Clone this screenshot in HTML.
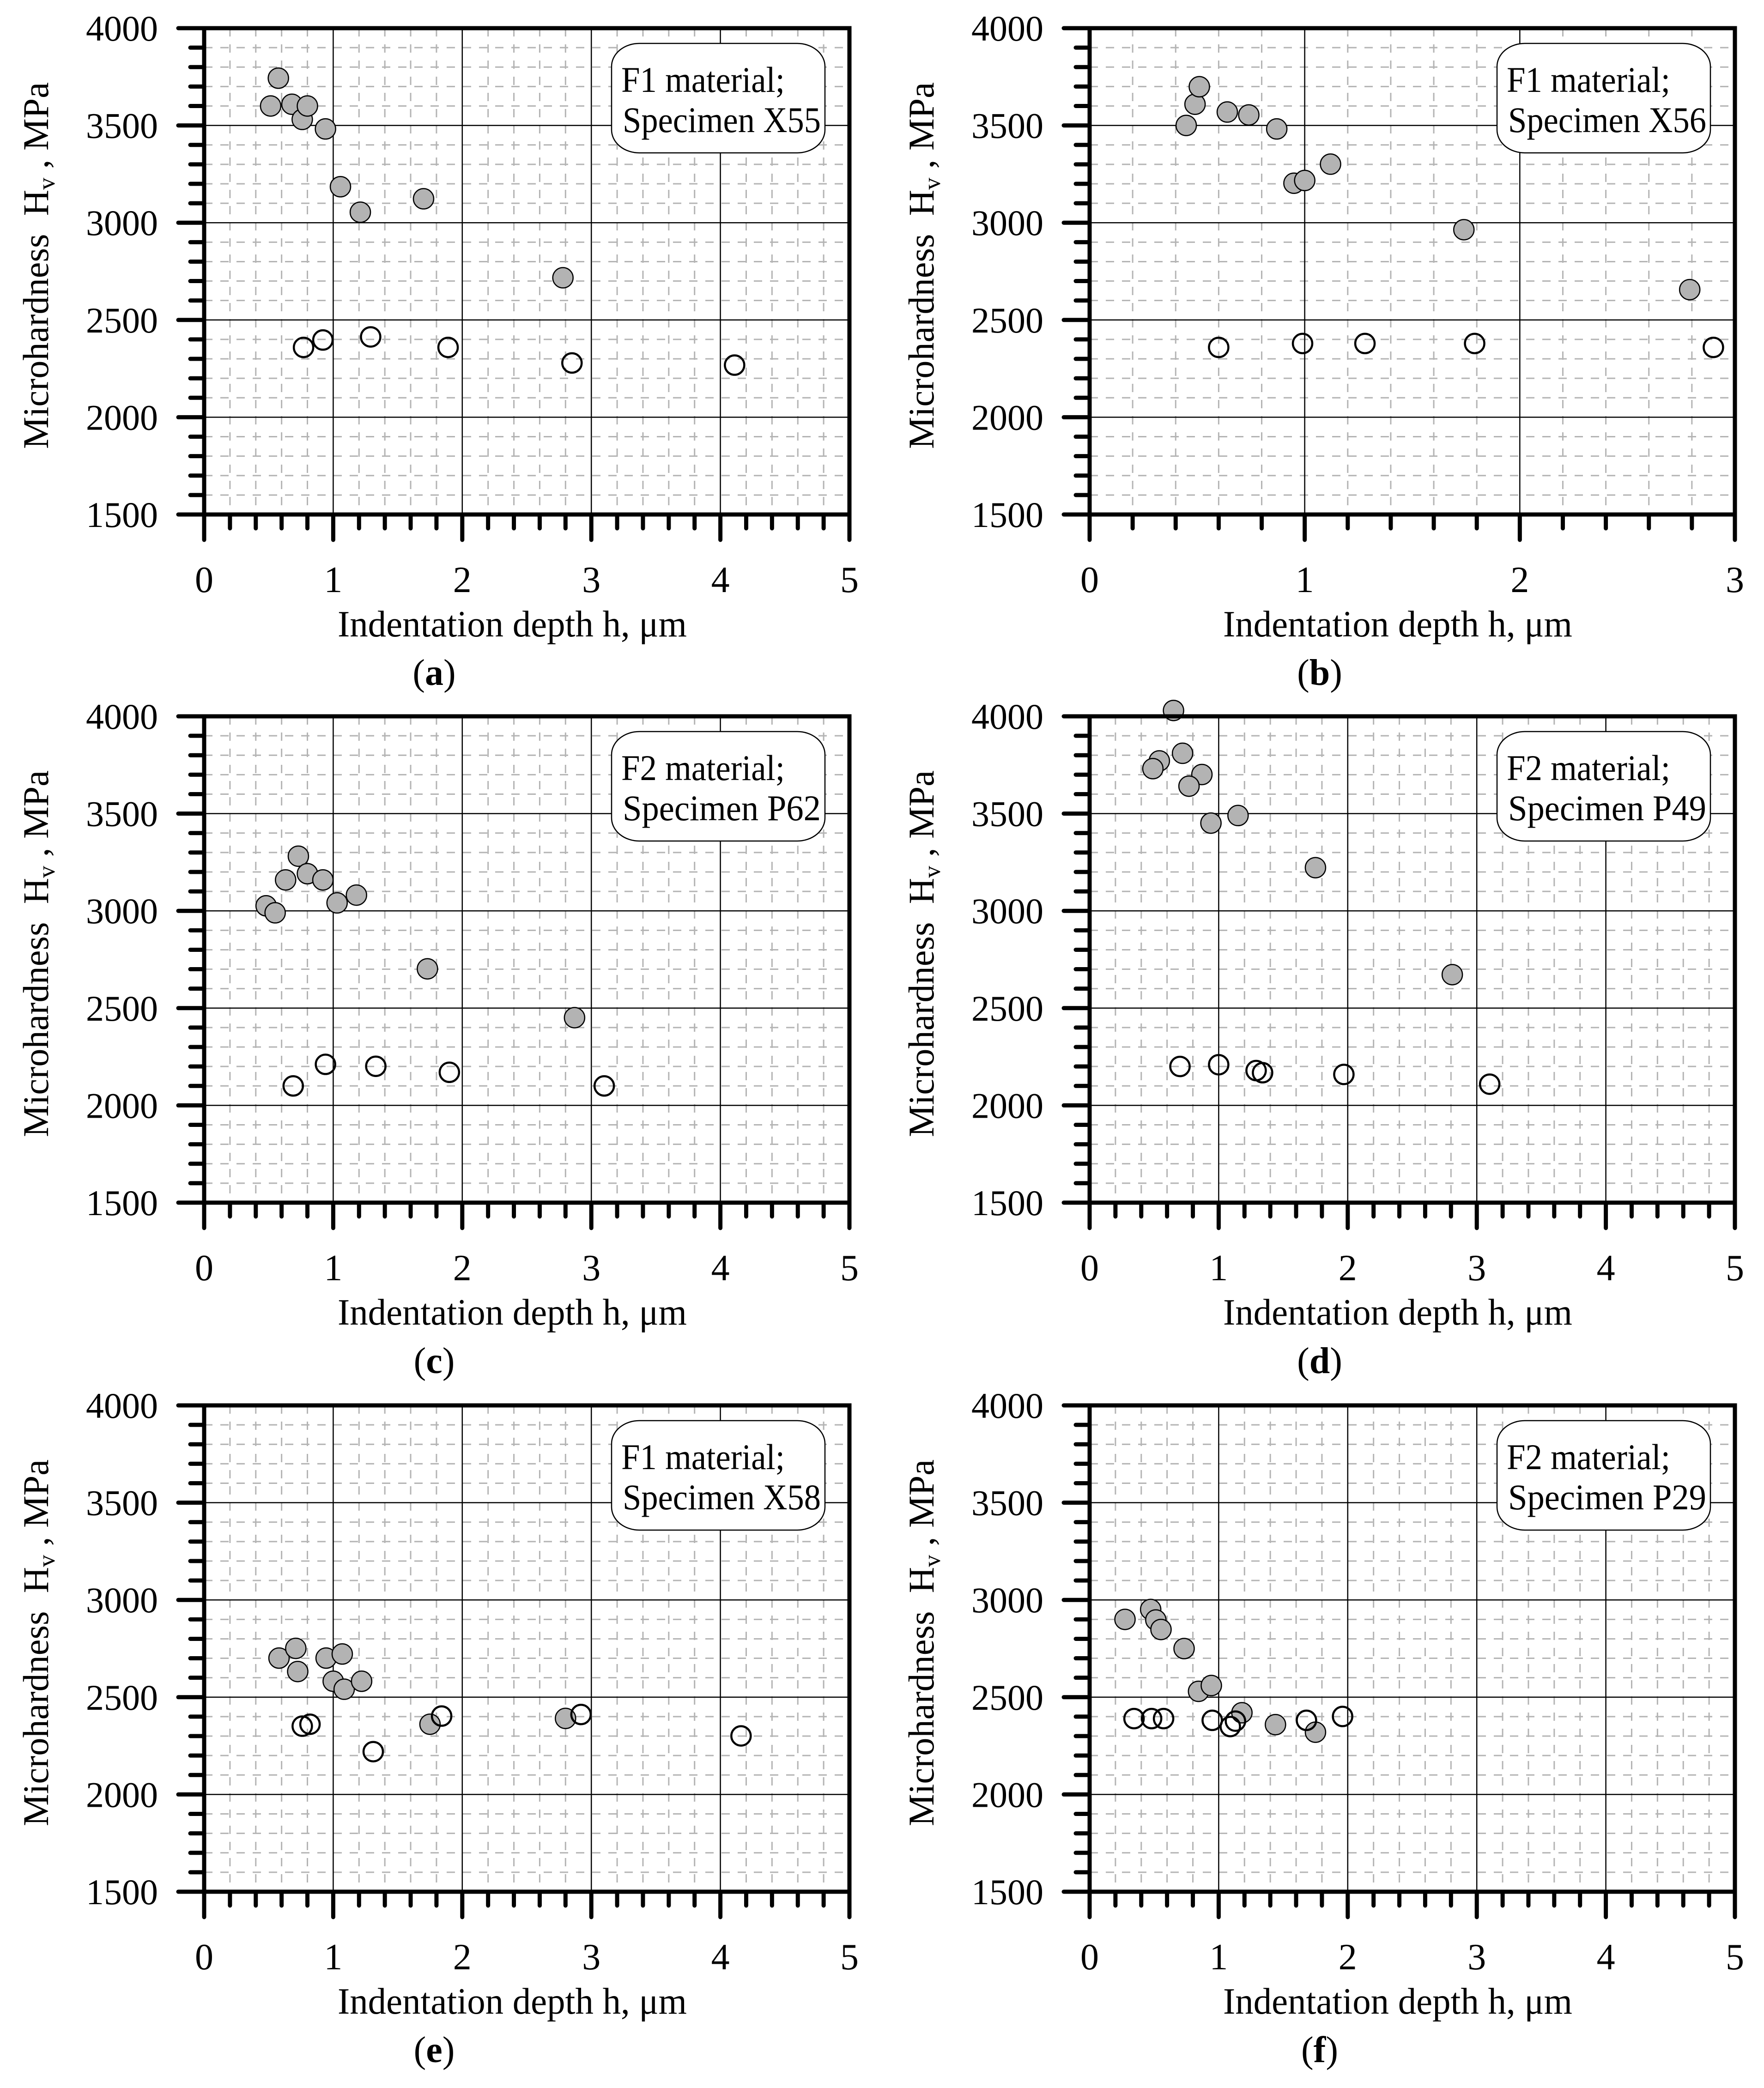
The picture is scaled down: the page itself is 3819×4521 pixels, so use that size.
<!DOCTYPE html>
<html>
<head>
<meta charset="utf-8">
<style>
html,body{margin:0;padding:0;background:#fff;}
svg{display:block;}
text{font-family:"Liberation Serif","Times New Roman",serif;fill:#000;}
</style>
</head>
<body>
<svg id="fig" xmlns="http://www.w3.org/2000/svg" width="3819" height="4521" viewBox="0 0 3819 4521">
<rect x="0" y="0" width="3819" height="4521" fill="#fff"/>
</svg>
<script>
// ---- data (h in µm, Hv in MPa) ----
const yTicks = [1500, 2000, 2500, 3000, 3500, 4000];
const xTicks5 = [0, 1, 2, 3, 4, 5];
const xTicks3 = [0, 1, 2, 3];

const aFilledX = [0.515, 0.575, 0.68, 0.76, 0.80, 0.94, 1.056, 1.21, 1.70, 2.78];
const aFilledY = [3600, 3743, 3609, 3531, 3600, 3482, 3185, 3054, 3123, 2717];
const aOpenX = [0.77, 0.92, 1.29, 1.89, 2.85, 4.11];
const aOpenY = [2359, 2397, 2413, 2359, 2279, 2268];

const bFilledX = [0.449, 0.49, 0.51, 0.64, 0.74, 0.87, 0.95, 1.0, 1.12, 1.74, 2.79];
const bFilledY = [3500, 3609, 3699, 3569, 3554, 3482, 3203, 3217, 3301, 2964, 2656];
const bOpenX = [0.60, 0.99, 1.28, 1.79, 2.90];
const bOpenY = [2359, 2379, 2379, 2379, 2359];

const cFilledX = [0.73, 0.80, 0.631, 0.92, 1.18, 1.03, 0.48, 0.55, 1.73, 2.87];
const cFilledY = [3281, 3191, 3159, 3159, 3081, 3041, 3026, 2990, 2702, 2451];
const cOpenX = [0.69, 0.94, 1.33, 1.9, 3.1];
const cOpenY = [2100, 2211, 2201, 2170, 2100];

const dFilledX = [0.65, 0.72, 0.54, 0.49, 0.87, 0.77, 1.15, 0.94, 1.75, 2.81];
const dFilledY = [4030, 3810, 3771, 3731, 3701, 3641, 3490, 3451, 3222, 2672];
const dOpenX = [0.70, 1.0, 1.29, 1.34, 1.97, 3.1];
const dOpenY = [2200, 2209, 2179, 2168, 2159, 2109];

const eFilledX = [0.58, 0.71, 0.725, 0.945, 1.07, 1.0, 1.085, 1.22, 1.75, 2.8];
const eFilledY = [2701, 2751, 2632, 2701, 2722, 2582, 2541, 2582, 2361, 2391];
const eOpenX = [0.76, 0.82, 1.31, 1.84, 2.92, 4.16];
const eOpenY = [2351, 2361, 2220, 2403, 2411, 2301];

const fFilledX = [0.274, 0.473, 0.513, 0.553, 0.732, 0.844, 0.943, 1.18, 1.44, 1.75];
const fFilledY = [2900, 2951, 2897, 2848, 2750, 2530, 2560, 2420, 2359, 2320];
const fOpenX = [0.344, 0.48, 0.573, 0.95, 1.09, 1.13, 1.68, 1.96];
const fOpenY = [2390, 2390, 2390, 2381, 2349, 2377, 2381, 2401];

const legendLine1 = ["F1 material;", "F1 material;", "F2 material;", "F2 material;", "F1 material;", "F2 material;"];
const legendLine2 = ["Specimen X55", "Specimen X56", "Specimen P62", "Specimen P49", "Specimen X58", "Specimen P29"];
const captions = ["a", "b", "c", "d", "e", "f"];

// ---- drawing ----
const NS = "http://www.w3.org/2000/svg";
const svg = document.getElementById("fig");
function mk(tag, attrs, parent) {
  const e = document.createElementNS(NS, tag);
  for (const k in attrs) e.setAttribute(k, attrs[k]);
  (parent || svg).appendChild(e);
  return e;
}

const PW = 1397, PH = 1053;
const colX = [442, 2359];
const rowY = [61, 1551, 3043];
const panels = [
  {fx: aFilledX, fy: aFilledY, ox: aOpenX, oy: aOpenY, xmax: 5, ticks: xTicks5},
  {fx: bFilledX, fy: bFilledY, ox: bOpenX, oy: bOpenY, xmax: 3, ticks: xTicks3},
  {fx: cFilledX, fy: cFilledY, ox: cOpenX, oy: cOpenY, xmax: 5, ticks: xTicks5},
  {fx: dFilledX, fy: dFilledY, ox: dOpenX, oy: dOpenY, xmax: 5, ticks: xTicks5},
  {fx: eFilledX, fy: eFilledY, ox: eOpenX, oy: eOpenY, xmax: 5, ticks: xTicks5},
  {fx: fFilledX, fy: fFilledY, ox: fOpenX, oy: fOpenY, xmax: 5, ticks: xTicks5}
];

panels.forEach((p, i) => {
  const x0 = colX[i % 2], y0 = rowY[Math.floor(i / 2)];
  const xS = v => x0 + v / p.xmax * PW;
  const yS = v => y0 + PH - (v - 1500) / 2500 * PH;
  const g = mk("g", {});
  
  

  // minor dashed grid
  const grid = mk("g", {stroke: "#b4b4b4", "stroke-width": 3, "stroke-dasharray": "18 17"}, g);
  
  
  for (let v = 1600; v < 4000; v += 100) {
    if (v % 500 === 0) continue;
    mk("line", {x1: x0, x2: x0 + PW, y1: yS(v), y2: yS(v)}, grid);
  }
  for (let k = 1; k < p.xmax * 5; k++) {
    if (k % 5 === 0) continue;
    const xv = k * 0.2;
    mk("line", {x1: xS(xv), x2: xS(xv), y1: y0, y2: y0 + PH}, grid);
  }
  // major grid
  const mg = mk("g", {stroke: "#000", "stroke-width": 2.5}, g);
  
  
  yTicks.forEach(v => { if (v > 1500 && v < 4000) mk("line", {x1: x0, x2: x0 + PW, y1: yS(v), y2: yS(v)}, mg); });
  p.ticks.forEach(v => { if (v > 0 && v < p.xmax) mk("line", {x1: xS(v), x2: xS(v), y1: y0, y2: y0 + PH}, mg); });

  // ticks
  const tk = mk("g", {stroke: "#000", "stroke-width": 9, "stroke-linecap": "round"}, g);
  
  
  for (let v = 1500; v <= 4000; v += 100) {
    const len = v % 500 === 0 ? 56 : 30;
    mk("line", {x1: x0 - len, x2: x0, y1: yS(v), y2: yS(v)}, tk);
  }
  for (let k = 0; k <= p.xmax * 5; k++) {
    const len = k % 5 === 0 ? 55 : 30;
    mk("line", {x1: xS(k * 0.2), x2: xS(k * 0.2), y1: y0 + PH, y2: y0 + PH + len}, tk);
  }

  // legend box
  const lb = mk("g", {}, g);
  
  
  const bx = x0 + PW - 53 - 462, by = y0 + 33;
  mk("rect", {x: bx, y: by, width: 462, height: 237, rx: 60, ry: 50, fill: "#fff", stroke: "#000", "stroke-width": 2.5}, lb);
  const t1 = mk("text", {x: bx + 21, y: by + 105, "font-size": 78, textLength: 354, lengthAdjust: "spacingAndGlyphs"}, lb);
  t1.textContent = legendLine1[i];
  const t2 = mk("text", {x: bx + 24, y: by + 192, "font-size": 78, textLength: 429, lengthAdjust: "spacingAndGlyphs"}, lb);
  t2.textContent = legendLine2[i];

  // markers
  const ms = mk("g", {}, g);
  
  
  p.fx.forEach((xv, j) => {
    const c = mk("circle", {cx: xS(xv), cy: yS(p.fy[j]), r: 22, fill: "#b3b3b3", stroke: "#000", "stroke-width": 2.5}, ms);
    
    
  });
  const mo = mk("g", {}, g);
  
  
  p.ox.forEach((xv, j) => {
    const c = mk("circle", {cx: xS(xv), cy: yS(p.oy[j]), r: 21, fill: "none", stroke: "#000", "stroke-width": 4.5}, mo);
    
    
  });

  // frame
  const fr = mk("rect", {x: x0, y: y0, width: PW, height: PH, fill: "none", stroke: "#000", "stroke-width": 9}, g);
  
  

  // tick labels
  yTicks.forEach(v => {
    const t = mk("text", {x: x0 - 100, y: yS(v) + 27, "font-size": 78, "text-anchor": "end"}, g);
    
    
    t.textContent = v;
  });
  p.ticks.forEach(v => {
    const t = mk("text", {x: xS(v), y: y0 + 1221, "font-size": 80, "text-anchor": "middle"}, g);
    
    
    t.textContent = v;
  });

  // x title
  const xt = mk("text", {x: x0 + 667, y: y0 + 1317, "font-size": 80, "text-anchor": "middle", textLength: 756, lengthAdjust: "spacingAndGlyphs"}, g);
  
  
  xt.textContent = "Indentation depth h, \u03bcm";

  // y title
  const cy = y0 + 514, tx = x0 - 338;
  const yt = mk("text", {x: tx, y: cy, "font-size": 78, "text-anchor": "middle", transform: "rotate(-90 " + tx + " " + cy + ")", textLength: 794, lengthAdjust: "spacingAndGlyphs"}, g);
  
  
  yt.innerHTML = 'Microhardness\u00a0\u00a0H<tspan font-size="52" dy="14">v</tspan><tspan dy="-14"> , MPa</tspan>';

  // caption
  const cp = mk("text", {x: x0 + 498, y: y0 + 1422, "font-size": 80, "text-anchor": "middle"}, g);
  
  
  cp.innerHTML = '(<tspan font-weight="bold">' + captions[i] + '</tspan>)';
});
</script>
</body>
</html>
